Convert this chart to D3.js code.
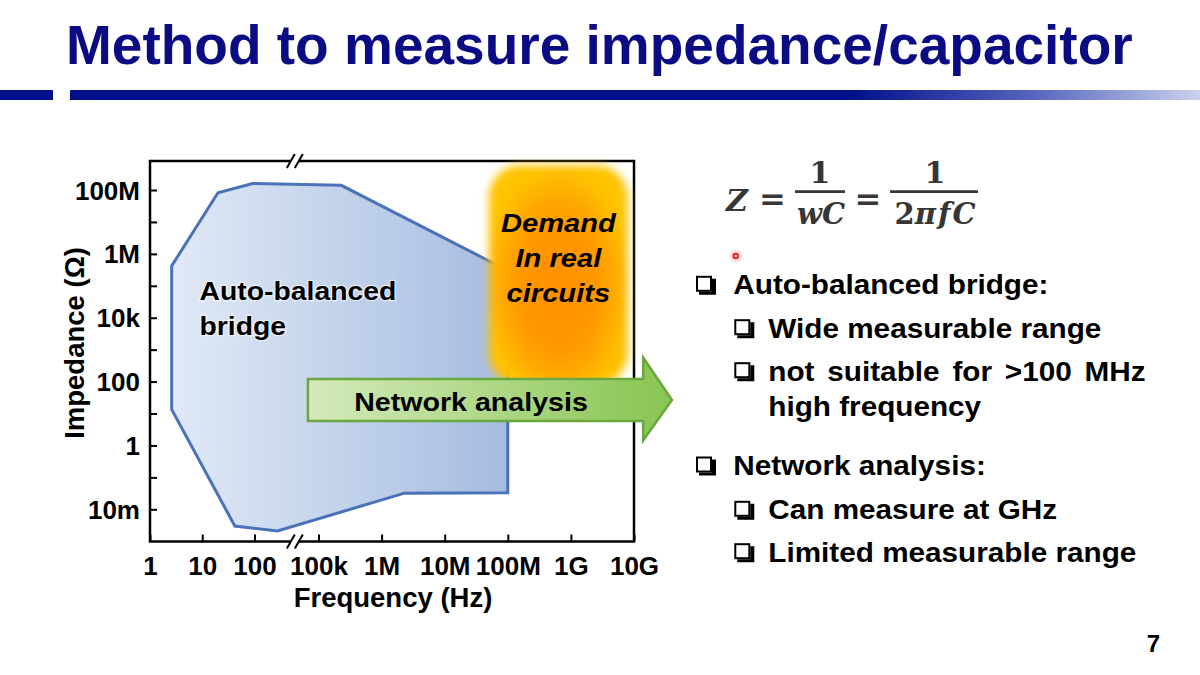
<!DOCTYPE html>
<html><head><meta charset="utf-8">
<script src="https://cdn.jsdelivr.net/npm/d3@7"></script>
<style>
html,body{margin:0;padding:0;background:#fff;}
svg{display:block;font-family:"Liberation Sans",Arial,sans-serif;}
</style>
</head><body>
<svg id="c" width="1200" height="675"></svg>
<script>
// ---------------- data ----------------
const titleText = "Method to measure impedance/capacitor";
const xTickValues = [1, 10, 100, 1e5, 1e6, 1e7, 1e8, 1e9, 1e10];
const xTickLabels = ["1", "10", "100", "100k", "1M", "10M", "100M", "1G", "10G"];
const yTickValues = [1e-2, 1e-1, 1, 10, 100, 1e3, 1e4, 1e5, 1e6, 1e7, 1e8];
const yTickLabels = ["10m", "", "1", "", "100", "", "10k", "", "1M", "", "100M"];
const xTitle = "Frequency (Hz)";
const yTitle = "Impedance (\u03A9)";
// auto-balanced bridge region (frequency Hz, impedance Ohm)
const bridgeFreq = [2.6, 20, 92, 2.3e5, 1e8, 1e8, 2.3e6, 1.2e3, 42, 2.6];
const bridgeZ    = [4.2e5, 8.2e7, 1.6e8, 1.4e8, 3e5, 0.033, 0.032, 0.0021, 0.003, 13.5];
const bridgeLabel = ["Auto-balanced", "bridge"];
// "demand in real circuits" region
const demandFreq = [5e7, 8e9];
const demandZ = [6e8, 77];
const demandLabel = ["Demand", "In real", "circuits"];
// network analysis arrow: tail, head base, tip
const arrowFreq = [3.2e4, 1.4e10, 4e10];
const arrowBodyZ = [120, 5.8];
const arrowHeadZ = [560, 1.45];
const arrowLabel = "Network analysis";
// bullets
const bulletTexts = ["Auto-balanced bridge:", "Wide measurable range", "not suitable for >100 MHz",
  "high frequency", "Network analysis:", "Can measure at GHz", "Limited measurable range"];
const bulletLevels = [1, 2, 2, 0, 1, 2, 2]; // 0 = continuation line
const pageNumber = "7";

// ---------------- layout ----------------
const svg = d3.select("#c");
const L = 150, R = 634, T = 161, B = 541.5;
const x = d3.scaleLog().domain([1, 100, 1e5, 1e10]).range([L, 254.5, 318.5, R]);
const y = d3.scaleLog().domain([1e-2, 1e8]).range([509.3, 190]);
const FONT = '"Liberation Sans", Arial, sans-serif';

const defs = svg.append("defs");
const barGrad = defs.append("linearGradient").attr("id", "barG")
  .attr("gradientUnits", "userSpaceOnUse").attr("x1", 70).attr("x2", 1200).attr("y1", 0).attr("y2", 0);
[[0, "#00108a"], [0.69, "#00108a"], [0.85, "#5563bd"], [1, "#cad1ee"]].forEach(s =>
  barGrad.append("stop").attr("offset", s[0]).attr("stop-color", s[1]));
const polyGrad = defs.append("linearGradient").attr("id", "polyG")
  .attr("gradientUnits", "userSpaceOnUse").attr("x1", x(2.6)).attr("x2", x(1e8)).attr("y1", 0).attr("y2", 0);
[[0, "#e1e9f6"], [1, "#a5bce0"]].forEach(s => polyGrad.append("stop").attr("offset", s[0]).attr("stop-color", s[1]));
const demGrad = defs.append("radialGradient").attr("id", "demG").attr("cx", "0.5").attr("cy", "0.55").attr("r", "0.56");
[[0, "#ff9000"], [0.5, "#ff9800"], [0.72, "#ffa900"], [0.9, "#ffbd00"], [1, "#ffc400"]].forEach(s =>
  demGrad.append("stop").attr("offset", s[0]).attr("stop-color", s[1]));
const blur = defs.append("filter").attr("id", "blur").attr("x", "-20%").attr("y", "-20%").attr("width", "140%").attr("height", "140%");
blur.append("feGaussianBlur").attr("stdDeviation", 4.5);
const arrGrad = defs.append("linearGradient").attr("id", "arrG")
  .attr("gradientUnits", "userSpaceOnUse").attr("x1", x(arrowFreq[0])).attr("x2", x(arrowFreq[2])).attr("y1", 0).attr("y2", 0);
[[0, "#d4eabb"], [1, "#88c552"]].forEach(s => arrGrad.append("stop").attr("offset", s[0]).attr("stop-color", s[1]));
const dotGrad = defs.append("radialGradient").attr("id", "dotG");
[[0, "rgba(255,80,80,0.55)"], [1, "rgba(255,120,120,0)"]].forEach(s => dotGrad.append("stop").attr("offset", s[0]).attr("stop-color", s[1]));

function label(parent, px, py, str, size, opts = {}) {
  const sx = opts.sx || 1;
  const t = parent.append("text")
    .attr("transform", `translate(${px},${py}) scale(${sx},1)`)
    .attr("text-anchor", opts.anchor || "start")
    .attr("font-family", opts.family || FONT)
    .attr("font-size", size)
    .attr("font-weight", opts.weight || "bold")
    .attr("font-style", opts.style || "normal")
    .attr("fill", opts.fill || "#000")
    .text(str);
  if (opts.wordSpacing) t.attr("word-spacing", opts.wordSpacing);
  return t;
}

// ---------------- title ----------------
label(svg, 66, 64, titleText, 55, { fill: "#0b0b83" });
svg.append("rect").attr("x", 0).attr("y", 90).attr("width", 53).attr("height", 10).attr("fill", "#00108a");
svg.append("rect").attr("x", 70).attr("y", 90).attr("width", 1130).attr("height", 10).attr("fill", "url(#barG)");

// ---------------- chart ----------------
const pts = bridgeFreq.map((f, i) => [x(f), y(bridgeZ[i])]);
svg.append("path").attr("d", d3.line()(pts) + "Z")
  .attr("fill", "url(#polyG)").attr("stroke", "#4a72b9").attr("stroke-width", 3).attr("stroke-linejoin", "miter");

// frame
svg.append("rect").attr("x", L).attr("y", T).attr("width", R - L).attr("height", B - T)
  .attr("fill", "none").attr("stroke", "#000").attr("stroke-width", 2.5);

// axes
const gx = svg.append("g").attr("transform", `translate(0,${B})`)
  .call(d3.axisBottom(x).tickValues(xTickValues).tickFormat((d, i) => xTickLabels[i]).tickSize(-7));
const gy = svg.append("g").attr("transform", `translate(${L},0)`)
  .call(d3.axisLeft(y).tickValues(yTickValues).tickFormat((d, i) => yTickLabels[i]).tickSize(-7).tickPadding(10));
[gx, gy].forEach(g => {
  g.select(".domain").remove();
  g.selectAll(".tick line").attr("stroke", "#000").attr("stroke-width", 2);
  g.selectAll(".tick text").attr("font-family", FONT).attr("font-size", 26).attr("font-weight", "bold").attr("fill", "#000");
});
gx.selectAll(".tick text").attr("y", 33.5).attr("dy", 0);
gy.selectAll(".tick text").attr("dy", "0.35em");

// axis break marks
const xb = x(100) + 0.63 * (x(1e5) - x(100));
[T, B].forEach(yy => {
  svg.append("rect").attr("x", xb - 4).attr("y", yy - 3).attr("width", 8).attr("height", 6).attr("fill", "#fff");
  [-4, 4].forEach(o => svg.append("line")
    .attr("x1", xb + o - 4).attr("y1", yy + 7).attr("x2", xb + o + 4).attr("y2", yy - 7)
    .attr("stroke", "#000").attr("stroke-width", 2));
});

// axis titles
label(svg, 393, 606.5, xTitle, 27.5, { anchor: "middle" });
svg.append("text").attr("transform", "translate(84,343) rotate(-90)").attr("text-anchor", "middle")
  .attr("font-family", FONT).attr("font-size", 27.5).attr("font-weight", "bold").text(yTitle);

// bridge label (with faint light halo)
bridgeLabel.forEach((s, i) => label(svg, 199.5, 300 + i * 35, s, 26, { sx: 1.09 })
  .attr("stroke", "rgba(255,255,255,0.6)").attr("stroke-width", 2.5).attr("paint-order", "stroke"));

// demand box
const dx0 = x(demandFreq[0]), dx1 = x(demandFreq[1]), dy0 = y(demandZ[0]), dy1 = y(demandZ[1]);
svg.append("rect").attr("x", dx0).attr("y", dy0).attr("width", dx1 - dx0).attr("height", dy1 - dy0)
  .attr("rx", 32).attr("ry", 32).attr("fill", "url(#demG)").attr("filter", "url(#blur)");
demandLabel.forEach((s, i) => label(svg, (dx0 + dx1) / 2, 231.7 + i * 35, s, 26, { sx: 1.12, anchor: "middle", style: "italic" }));

// network analysis arrow
const ax0 = x(arrowFreq[0]), ax1 = x(arrowFreq[1]), ax2 = x(arrowFreq[2]);
const by0 = y(arrowBodyZ[0]), by1 = y(arrowBodyZ[1]), hy0 = y(arrowHeadZ[0]), hy1 = y(arrowHeadZ[1]);
const tipY = (by0 + by1) / 2;
svg.append("path").attr("d", d3.line()([[ax0, by0], [ax1, by0], [ax1, hy0], [ax2, tipY], [ax1, hy1], [ax1, by1], [ax0, by1]]) + "Z")
  .attr("fill", "url(#arrG)").attr("stroke", "#6aa83f").attr("stroke-width", 2.5).attr("stroke-linejoin", "miter");
label(svg, 471, 411, arrowLabel, 26, { sx: 1.1, anchor: "middle" });

// ---------------- formula ----------------
const SERIF = '"DejaVu Serif", "Liberation Serif", serif';
const fc = "#363636";
label(svg, 737, 210.5, "Z", 30, { family: SERIF, style: "italic", fill: fc, anchor: "middle" });
label(svg, 772.5, 209.5, "=", 32, { family: SERIF, fill: fc, anchor: "middle" });
svg.append("line").attr("x1", 795).attr("x2", 845).attr("y1", 191.7).attr("y2", 191.7).attr("stroke", fc).attr("stroke-width", 2.8);
label(svg, 820, 183.3, "1", 30, { family: SERIF, fill: fc, anchor: "middle" });
label(svg, 821, 224, "wC", 29, { family: SERIF, fill: fc, anchor: "middle", style: "italic" });
label(svg, 868, 209.5, "=", 32, { family: SERIF, fill: fc, anchor: "middle" });
svg.append("line").attr("x1", 890).attr("x2", 978).attr("y1", 191.7).attr("y2", 191.7).attr("stroke", fc).attr("stroke-width", 2.8);
label(svg, 935, 183.3, "1", 30, { family: SERIF, fill: fc, anchor: "middle" });
const den = svg.append("text").attr("transform", "translate(935,224)").attr("text-anchor", "middle")
  .attr("font-family", SERIF).attr("font-size", 29).attr("font-weight", "bold").attr("fill", fc);
den.append("tspan").text("2");
den.append("tspan").attr("font-style", "italic").text("\u03C0");
den.append("tspan").attr("font-style", "italic").attr("dx", 2).text("f");
den.append("tspan").attr("font-style", "italic").attr("dx", 2).text("C");

// red pointer dot
svg.append("circle").attr("cx", 735.7).attr("cy", 256).attr("r", 8).attr("fill", "url(#dotG)");
svg.append("circle").attr("cx", 735.7).attr("cy", 256).attr("r", 3.3).attr("fill", "#d92a2a");
svg.append("circle").attr("cx", 735.7).attr("cy", 256).attr("r", 1.3).attr("fill", "#ffc8c8");

// ---------------- bullets ----------------
const lineY = [294.3, 337.7, 380.7, 416, 475, 519.3, 561.7];
function bulletBox(bx, baseY) {
  const top = baseY - 18.5, s = 16;
  const g = svg.append("g");
  g.append("rect").attr("x", bx + 1).attr("y", top + 1).attr("width", s - 2).attr("height", s - 2)
    .attr("fill", "none").attr("stroke", "#000").attr("stroke-width", 2);
  g.append("path").attr("d", `M${bx + s},${top + 3} L${bx + s + 4},${top + 3} L${bx + s + 4},${top + s + 3} L${bx + 3},${top + s + 3} L${bx + 3},${top + s} L${bx + s},${top + s} Z`)
    .attr("fill", "#000");
}
bulletTexts.forEach((s, i) => {
  const lvl = bulletLevels[i];
  const tx = lvl === 1 ? 733.3 : 768.3;
  if (lvl === 1) bulletBox(696, lineY[i]);
  if (lvl === 2) bulletBox(734.3, lineY[i]);
  const opts = { sx: 1.1 };
  if (i === 2) opts.wordSpacing = 4.2;
  label(svg, tx, lineY[i], s, 27, opts);
});

// page number
label(svg, 1153.5, 651.7, pageNumber, 24, { anchor: "middle" });
</script>
</body></html>
